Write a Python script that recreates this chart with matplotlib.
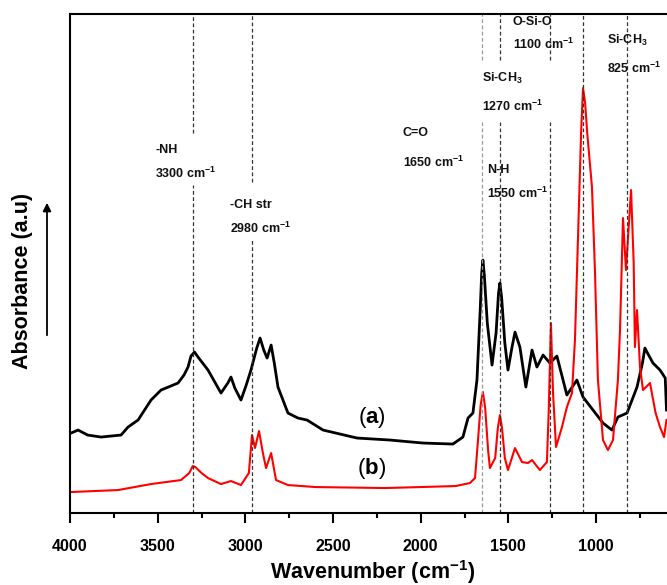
import matplotlib
matplotlib.use("Agg")
import matplotlib.pyplot as plt
from matplotlib.ticker import MultipleLocator

plt.rcParams["font.family"] = ["Liberation Sans", "DejaVu Sans"]
plt.rcParams["mathtext.fontset"] = "custom"
plt.rcParams["mathtext.rm"] = "Liberation Sans:bold"
plt.rcParams["mathtext.bf"] = "Liberation Sans:bold"
plt.rcParams["mathtext.it"] = "Liberation Sans:bold"

# spectrum (a), black: wavenumber (cm-1) and absorbance (a.u.)
wn_a = [3994, 3954, 3900, 3823, 3709, 3669, 3612, 3538, 3481, 3384, 3350, 3327,
        3310, 3290, 3270, 3213, 3139, 3100, 3082, 3060, 3025, 2995, 2968, 2935,
        2916, 2895, 2876, 2853, 2835, 2814, 2757, 2700, 2648, 2557, 2363, 2175,
        1987, 1816, 1759, 1730, 1702, 1679, 1660, 1652, 1645, 1637, 1620, 1593,
        1570, 1556, 1548, 1538, 1520, 1502, 1480, 1462, 1434, 1400, 1365, 1337,
        1302, 1263, 1223, 1166, 1109, 1074, 1017, 960, 909, 875, 823, 766,
        735, 721, 700, 675, 635, 605, 598]
abs_a = [80, 83, 78, 76, 78, 86, 93, 113, 123, 130, 138, 146,
         157, 161, 156, 143, 120, 130, 136, 125, 113, 128, 143, 165,
         175, 163, 155, 168, 150, 126, 100, 95, 93, 83, 75, 73,
         70, 69, 76, 95, 100, 133, 205, 240, 253, 238, 190, 148,
         180, 220, 230, 215, 170, 143, 165, 181, 166, 126, 163, 146,
         158, 150, 157, 118, 133, 116, 103, 90, 83, 96, 100, 126,
         150, 165, 158, 150, 143, 135, 103]

# spectrum (b), red
wn_b = [3994, 3726, 3538, 3367, 3320, 3300, 3285, 3250, 3213, 3139, 3082, 3025,
        2980, 2962, 2945, 2922, 2900, 2882, 2853, 2825, 2757, 2600, 2200, 1800,
        1719, 1690, 1673, 1658, 1645, 1632, 1615, 1605, 1575, 1560, 1548, 1536,
        1520, 1502, 1462, 1422, 1388, 1365, 1320, 1280, 1270, 1257, 1245, 1228,
        1194, 1166, 1137, 1120, 1103, 1085, 1074, 1062, 1050, 1023, 1006, 989,
        960, 932, 903, 875, 863, 846, 829, 800, 785, 778, 766, 749,
        732, 692, 660, 635, 612, 598]
abs_b = [21, 23, 29, 33, 40, 47, 46, 40, 35, 29, 32, 28,
         40, 78, 65, 82, 60, 45, 60, 33, 28, 26, 25, 27,
         30, 35, 73, 108, 121, 105, 62, 45, 55, 85, 98, 85,
         55, 43, 65, 51, 50, 53, 43, 51, 100, 190, 120, 66,
         86, 106, 120, 173, 273, 380, 425, 410, 380, 326, 243, 133,
         73, 63, 73, 133, 183, 295, 243, 323, 250, 166, 203, 146,
         123, 130, 100, 86, 76, 93]

# band markers
band_pos = [3300, 2960, 1650, 1550, 1262, 1075, 823]

fig = plt.figure(figsize=(6.67, 5.85), dpi=100)
ax = fig.add_axes([0.105, 0.123, 0.895, 0.853])

ax.plot(wn_a, abs_a, color="black", lw=2.0)
ax.plot(wn_b, abs_b, color="#ff0000", lw=1.5)

ax.set_xlim(4000, 595)
ax.set_ylim(0, 499)

# dashed guide lines, with gaps where the labels sit
gaps = {3300: [(328, 380)], 2960: [(275, 331)],
        1650: [(391, 453)], 1550: [(391, 453)], 1262: [(391, 453)]}
for w in band_pos:
    col = "#9a9a9a" if w == 1650 else "#333333"
    edges = [0]
    for lo, hi in gaps.get(w, []):
        edges += [lo, hi]
    edges.append(499)
    for i in range(0, len(edges), 2):
        ax.vlines(w, edges[i], edges[i + 1], colors=col, linestyles=(0, (3, 2)), lw=0.9)

lab_kw = dict(fontsize=9, fontweight="bold", va="center", ha="left", color="#111111")
ax.text(3515, 363, "-NH", **lab_kw)
ax.text(3515, 340, "3300 cm$^{-1}$", **lab_kw)
ax.text(3088, 308, "-CH str", **lab_kw)
ax.text(3088, 285, "2980 cm$^{-1}$", **lab_kw)
ax.text(2101, 380, "C=O", **lab_kw)
ax.text(2101, 351, "1650 cm$^{-1}$", **lab_kw)
ax.text(1622, 343, "N-H", **lab_kw)
ax.text(1622, 320, "1550 cm$^{-1}$", **lab_kw)
ax.text(1650, 435, "Si-CH$_{3}$", **lab_kw)
ax.text(1650, 407, "1270 cm$^{-1}$", **lab_kw)
ax.text(1474, 491, "O-Si-O", **lab_kw)
ax.text(1474, 469, "1100 cm$^{-1}$", **lab_kw)
ax.text(938, 473, "Si-CH$_{3}$", **lab_kw)
ax.text(938, 445, "825 cm$^{-1}$", **lab_kw)

ax.text(2278, 96, "($\\mathbf{a}$)", fontsize=16, ha="center", va="center")
ax.text(2278, 45, "($\\mathbf{b}$)", fontsize=16, ha="center", va="center")

ax.xaxis.set_major_locator(MultipleLocator(500))
ax.xaxis.set_minor_locator(MultipleLocator(250))
ax.tick_params(axis="x", which="major", direction="out", length=7, width=1.5,
               pad=12, labelsize=11.5)
ax.tick_params(axis="x", which="minor", direction="out", length=3.5, width=1.5)
for t in ax.get_xticklabels():
    t.set_fontweight("bold")
ax.set_yticks([])
for s in ["left", "bottom", "top"]:
    ax.spines[s].set_linewidth(1.5)
ax.spines["right"].set_visible(False)

fig.text(0.558, 0.022, "Wavenumber (cm$^{-1}$)", fontsize=15.5, fontweight="bold",
         ha="center", va="center")
fig.text(0.033, 1 - 281 / 585, "Absorbance (a.u)", fontsize=15.5, fontweight="bold",
         rotation=90, ha="center", va="center")
fig.patches.append(matplotlib.patches.FancyArrowPatch(
    (47 / 667, 1 - 338 / 585), (47 / 667, 1 - 200 / 585), transform=fig.transFigure,
    arrowstyle="-|>", mutation_scale=12, lw=1.3, color="black"))

fig.savefig("out.png", dpi=100)
